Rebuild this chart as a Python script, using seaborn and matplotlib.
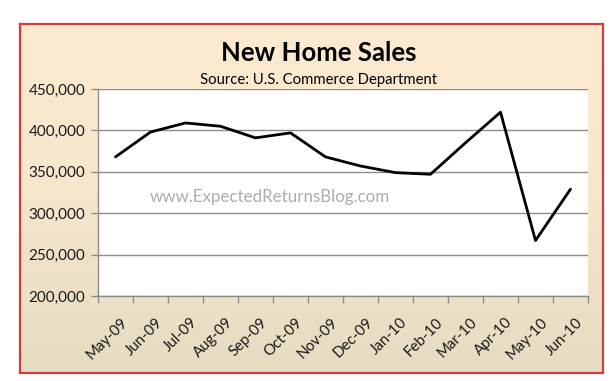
import numpy as np
import pandas as pd
import matplotlib.pyplot as plt
import seaborn as sns
from matplotlib.colors import LinearSegmentedColormap
from matplotlib.ticker import FuncFormatter, FixedLocator
from matplotlib.transforms import ScaledTranslation

months = ["May-09", "Jun-09", "Jul-09", "Aug-09", "Sep-09", "Oct-09", "Nov-09",
          "Dec-09", "Jan-10", "Feb-10", "Mar-10", "Apr-10", "May-10", "Jun-10"]
sales = [368000, 398000, 409000, 405000, 391000, 397000, 368000,
         357000, 349000, 347000, 385000, 422000, 267000, 329000]

df = pd.DataFrame({"month": months, "sales": sales, "pos": range(len(months))})

sns.set_theme(style="white")
plt.rcParams['font.family'] = ['Lato', 'DejaVu Sans']

W, H = 610, 381
fig = plt.figure(figsize=(W / 100, H / 100), dpi=100)
fig.patch.set_facecolor("white")

# framed chart area with vertical gradient
fl, ft, fr, fb = 20, 24, 603, 373
bg = fig.add_axes([fl / W, 1 - fb / H, (fr - fl) / W, (fb - ft) / H])
grad = np.linspace(0, 1, 256).reshape(-1, 1)
cmap = LinearSegmentedColormap.from_list("bg", ["#FDEBD1", "#F5E6CC", "#E6DCC2"])
bg.imshow(grad, aspect="auto", cmap=cmap, extent=[0, 1, 0, 1])
bg.set_xticks([])
bg.set_yticks([])
for s in bg.spines.values():
    s.set_color("#D63A3A")
    s.set_linewidth(1.6)

# plot area
pl, pt, pr, pb = 98, 89, 588, 296
ax = fig.add_axes([pl / W, 1 - pb / H, (pr - pl) / W, (pb - pt) / H])
ax.set_facecolor("white")
sns.lineplot(data=df, x="pos", y="sales", ax=ax, color="black", linewidth=2)

ax.set_xlim(-0.5, len(months) - 0.5)
ax.set_ylim(200000, 450000)
ax.set_yticks(range(200000, 450001, 50000))
ax.yaxis.set_major_formatter(FuncFormatter(lambda v, p: f"{int(v):,}"))
ax.grid(axis="y", color="#8C8C8C", linewidth=1)
ax.set_axisbelow(True)

ax.set_xticks(range(len(months)))
ax.set_xticklabels(months, rotation=45, ha="right", rotation_mode="anchor")
ax.xaxis.set_minor_locator(FixedLocator(np.arange(-0.5, len(months), 1)))
ax.tick_params(axis="x", which="major", length=0, pad=8, labelsize=10.8, colors="#1a1a1a")
ax.tick_params(axis="x", which="minor", length=5, width=1, color="#8C8C8C", bottom=True)
ax.tick_params(axis="y", length=5, width=1, color="#8C8C8C", left=True, labelsize=11,
               pad=4, labelcolor="#1a1a1a")
shift = ScaledTranslation(5 / 100, -8 / 100, fig.dpi_scale_trans)
for lab in ax.get_xticklabels():
    lab.set_transform(lab.get_transform() + shift)
ax.set_xlabel("")
ax.set_ylabel("")
for side in ["top", "right"]:
    ax.spines[side].set_visible(False)
for side in ["left", "bottom"]:
    ax.spines[side].set_color("#8C8C8C")
    ax.spines[side].set_linewidth(1)

ax.text(0.35, 0.48, "www.ExpectedReturnsBlog.com", transform=ax.transAxes,
        ha="center", va="center", fontsize=12.2, color="#ACACAC")

fig.text(319 / W, 1 - 53 / H, "New Home Sales", ha="center", va="center",
         fontsize=18.5, fontweight="bold", color="black")
fig.text(319 / W, 1 - 80 / H, "Source: U.S. Commerce Department", ha="center",
         va="center", fontsize=10.7, color="black")

fig.savefig("out.png", dpi=100)
